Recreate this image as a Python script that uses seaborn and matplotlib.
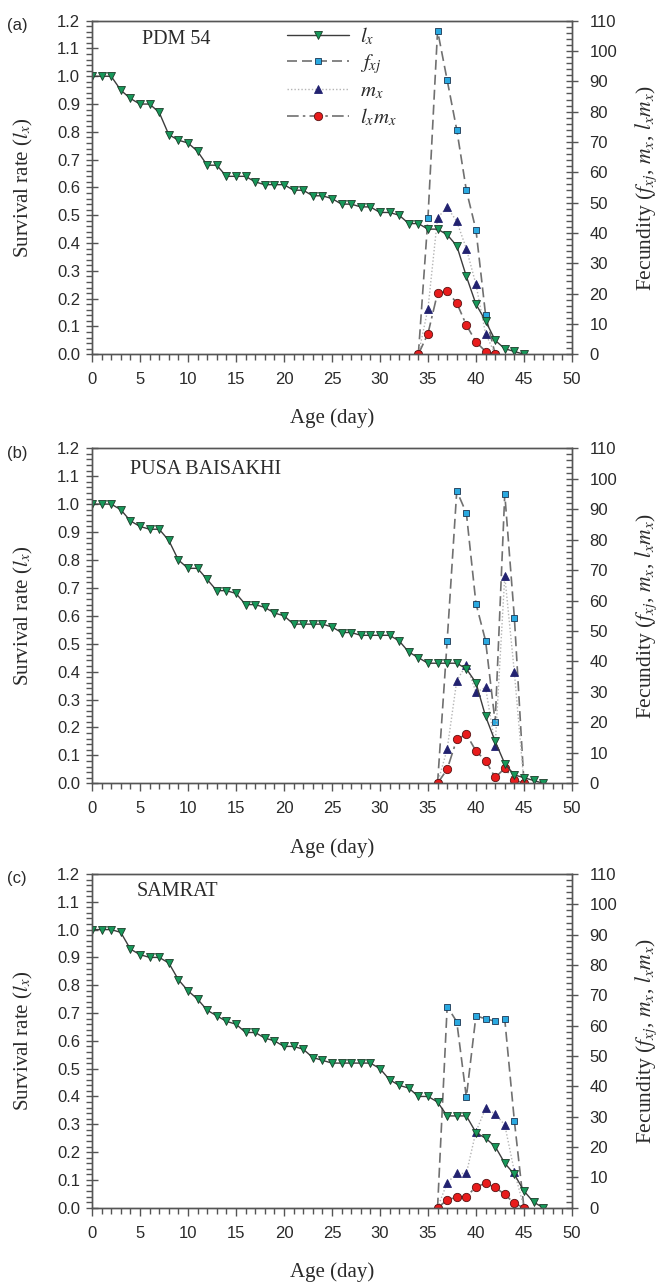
import matplotlib
matplotlib.use("Agg")
import matplotlib.pyplot as plt
import seaborn as sns
from matplotlib.ticker import MultipleLocator, FormatStrFormatter

# ---------------- data ----------------
age_a = list(range(0, 46))
lx_a = [1.0, 1.0, 1.0, 0.95, 0.92, 0.90, 0.90, 0.87, 0.79, 0.77,
        0.76, 0.73, 0.68, 0.68, 0.64, 0.64, 0.64, 0.62, 0.61, 0.61,
        0.61, 0.59, 0.59, 0.57, 0.57, 0.56, 0.54, 0.54, 0.53, 0.53,
        0.51, 0.51, 0.50, 0.47, 0.47, 0.45, 0.45, 0.43, 0.39, 0.28,
        0.18, 0.12, 0.05, 0.02, 0.01, 0.0]
fage_a = [34, 35, 36, 37, 38, 39, 40, 41, 42]
fxj_a = [0, 45.0, 106.7, 90.4, 74.0, 54.0, 41.0, 13.0, 0]
mx_a = [0, 15.0, 45.0, 48.5, 43.8, 34.8, 23.0, 6.8, 0]
lxmx_a = [0, 6.8, 20.2, 20.7, 16.9, 9.6, 4.1, 0.9, 0.1]

age_b = list(range(0, 48))
lx_b = [1.0, 1.0, 1.0, 0.98, 0.94, 0.92, 0.91, 0.91, 0.87, 0.80,
        0.77, 0.77, 0.73, 0.69, 0.69, 0.68, 0.64, 0.64, 0.63, 0.61,
        0.60, 0.57, 0.57, 0.57, 0.57, 0.56, 0.54, 0.54, 0.53, 0.53,
        0.53, 0.53, 0.51, 0.47, 0.45, 0.43, 0.43, 0.43, 0.43, 0.41,
        0.36, 0.24, 0.15, 0.07, 0.03, 0.02, 0.01, 0.0]
fage_b = [36, 37, 38, 39, 40, 41, 42, 43, 44, 45]
fxj_b = [0, 46.8, 96.0, 88.7, 59.0, 46.8, 20.0, 95.0, 54.4, 0]
mx_b = [0, 11.2, 33.7, 38.9, 29.9, 31.5, 12.3, 68.1, 36.4, 0]
lxmx_b = [0, 4.6, 14.4, 16.1, 10.6, 7.4, 1.9, 4.9, 1.1, 0]

age_c = list(range(0, 48))
lx_c = [1.0, 1.0, 1.0, 0.99, 0.93, 0.91, 0.90, 0.90, 0.88, 0.82,
        0.78, 0.75, 0.71, 0.69, 0.67, 0.66, 0.63, 0.63, 0.61, 0.60,
        0.58, 0.58, 0.57, 0.54, 0.53, 0.52, 0.52, 0.52, 0.52, 0.52,
        0.50, 0.46, 0.44, 0.43, 0.40, 0.40, 0.38, 0.33, 0.33, 0.33,
        0.27, 0.25, 0.22, 0.16, 0.12, 0.06, 0.02, 0.0]
fage_c = [36, 37, 38, 39, 40, 41, 42, 43, 44, 45]
fxj_c = [0, 66.3, 61.3, 36.4, 63.3, 62.2, 61.5, 62.1, 28.6, 0]
mx_c = [0, 8.2, 11.3, 11.3, 25.1, 32.7, 30.9, 27.3, 11.9, 0]
lxmx_c = [0, 2.5, 3.6, 3.6, 6.9, 8.0, 6.7, 4.4, 1.4, 0]

panel_tags = ["(a)", "(b)", "(c)"]
cultivars = ["PDM 54", "PUSA BAISAKHI", "SAMRAT"]
legend_labels = ["$l_x$", "$f_{xj}$", "$m_x$", "$l_xm_x$"]

# ---------------- style ----------------
sns.set_style("ticks")
plt.rcParams['font.family'] = ['Liberation Sans', 'DejaVu Sans']
plt.rcParams['mathtext.fontset'] = 'stix'
TXT = '#2a2a2a'
SPN = '#555555'
SERIF = ['Liberation Serif', 'DejaVu Serif']

fig = plt.figure(figsize=(6.65, 12.83), dpi=100)
positions = [(0.1383, 0.7239, 0.7218, 0.2600),
             (0.1383, 0.3895, 0.7218, 0.2611),
             (0.1383, 0.0587, 0.7218, 0.2601)]
name_pos = [(0.104, 0.943), (0.079, 0.938), (0.092, 0.946)]

datasets = [(age_a, lx_a, fage_a, fxj_a, mx_a, lxmx_a),
            (age_b, lx_b, fage_b, fxj_b, mx_b, lxmx_b),
            (age_c, lx_c, fage_c, fxj_c, mx_c, lxmx_c)]

for i, (age, lx, fage, fxj, mx, lxmx) in enumerate(datasets):
    ax = fig.add_axes(positions[i])
    ax2 = ax.twinx()
    ax.set_zorder(2)
    ax.patch.set_visible(False)

    sns.lineplot(x=age, y=lx, ax=ax, legend=False, label=legend_labels[0],
                 color='#3c3c3c', linewidth=1.0, linestyle='-',
                 marker='v', markersize=5.5, markerfacecolor='#17985a',
                 markeredgecolor='#1c3a28', markeredgewidth=0.6)
    sns.lineplot(x=fage, y=fxj, ax=ax2, legend=False, label=legend_labels[1],
                 color='#707070', linewidth=1.2, linestyle=(0, (6, 3)),
                 marker='s', markersize=5, markerfacecolor='#2aa9e0',
                 markeredgecolor='#1b3550', markeredgewidth=0.6)
    sns.lineplot(x=fage, y=mx, ax=ax2, legend=False, label=legend_labels[2],
                 color='#b4b4b4', linewidth=1.0, linestyle=(0, (1, 1.5)),
                 marker='^', markersize=5.5, markerfacecolor='#222270',
                 markeredgecolor='#222270', markeredgewidth=0.6)
    sns.lineplot(x=fage, y=lxmx, ax=ax2, legend=False, label=legend_labels[3],
                 color='#707070', linewidth=1.2, linestyle=(0, (7, 2.5, 1.5, 2.5)),
                 marker='o', markersize=6, markerfacecolor='#e81c1c',
                 markeredgecolor='#5a1212', markeredgewidth=0.6)

    ax.set_xlim(0, 50)
    ax.set_ylim(0, 1.2)
    ax2.set_ylim(0, 110)
    ax.xaxis.set_major_locator(MultipleLocator(5))
    ax.xaxis.set_minor_locator(MultipleLocator(1))
    ax.yaxis.set_major_locator(MultipleLocator(0.1))
    ax.yaxis.set_minor_locator(MultipleLocator(0.02))
    ax.yaxis.set_major_formatter(FormatStrFormatter('%.1f'))
    ax2.yaxis.set_major_locator(MultipleLocator(10))
    ax2.yaxis.set_minor_locator(MultipleLocator(2))

    for a in (ax, ax2):
        for s in a.spines.values():
            s.set_color(SPN)
            s.set_linewidth(1.0)
    ax.tick_params(axis='x', which='major', direction='out', length=6, width=1.0,
                   labelsize=12, pad=7, color=SPN, labelcolor=TXT)
    ax.tick_params(axis='x', which='minor', direction='out', length=4, width=1.0,
                   color=SPN, bottom=True)
    ax.tick_params(axis='y', which='major', direction='inout', length=9, width=1.0,
                   labelsize=12, pad=4, color=SPN, labelcolor=TXT)
    ax.tick_params(axis='y', which='minor', direction='out', length=4, width=1.0,
                   color=SPN, left=True)
    ax2.tick_params(axis='y', which='major', direction='inout', length=9, width=1.0,
                    labelsize=12, pad=8, color=SPN, labelcolor=TXT)
    ax2.tick_params(axis='y', which='minor', direction='in', length=4, width=1.0,
                    color=SPN, right=True)

    ax.set_xlabel("Age (day)", fontsize=15, family=SERIF, color=TXT)
    ax.xaxis.set_label_coords(0.5, -0.163)
    ax.set_ylabel("Survival rate ($l_x$)", fontsize=15, family=SERIF, color=TXT)
    ax.yaxis.set_label_coords(-0.118, 0.5)
    ax2.set_ylabel("Fecundity ($f_{xj}$, $m_x$, $l_xm_x$)", fontsize=15.5,
                   family=SERIF, color=TXT)
    ax2.yaxis.set_label_coords(1.128, 0.5)

    ax.text(name_pos[i][0], name_pos[i][1], cultivars[i], transform=ax.transAxes,
            fontsize=14.5, family=SERIF, color=TXT, ha='left', va='center')
    ax.text(-0.177, 0.985, panel_tags[i], transform=ax.transAxes,
            fontsize=12, color=TXT, ha='left', va='center')

    if i == 0:
        handles = ax.get_lines()[:1] + ax2.get_lines()[:3]
        leg = ax.legend(handles, legend_labels, loc='upper left',
                        bbox_to_anchor=(0.406, 0.985), frameon=False,
                        fontsize=15, handlelength=3.0, handletextpad=0.5,
                        labelspacing=0.25, borderpad=0, borderaxespad=0,
                        numpoints=1)
        for t in leg.get_texts():
            t.set_color(TXT)

fig.savefig("out.png", dpi=100)
